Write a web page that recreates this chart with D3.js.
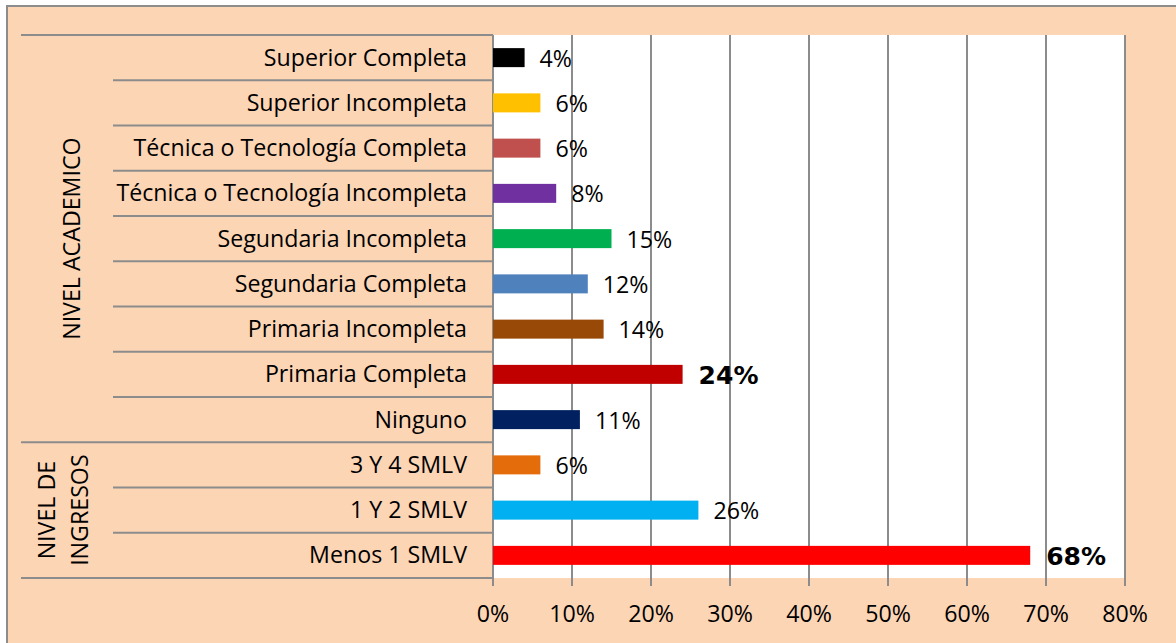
<!DOCTYPE html>
<html>
<head>
<meta charset="utf-8">
<script src="https://cdn.jsdelivr.net/npm/d3@7"></script>
<style>
  body { margin: 0; background: #fff; }
  svg text { font-family: "Open Sans", Lato, sans-serif; fill: #000; }
</style>
</head>
<body>
<div id="chart"></div>
<script>
// categories top to bottom, and their values (%)
var categories = ["Superior Completa", "Superior Incompleta", "Técnica o Tecnología Completa",
  "Técnica o Tecnología Incompleta", "Segundaria Incompleta", "Segundaria Completa",
  "Primaria Incompleta", "Primaria Completa", "Ninguno", "3 Y 4 SMLV", "1 Y 2 SMLV", "Menos 1 SMLV"];
var values = [4, 6, 6, 8, 15, 12, 14, 24, 11, 6, 26, 68];
var colors = ["#000000", "#FFC000", "#C0504D", "#7030A0", "#00B050", "#4F81BD",
  "#984807", "#C00000", "#002060", "#E46C0A", "#00B0F0", "#FF0000"];
var bold = [false, false, false, false, false, false, false, true, false, false, false, true];
var groups = [{ lines: ["NIVEL ACADEMICO"], from: 0, to: 8 },
  { lines: ["NIVEL DE", "INGRESOS"], from: 9, to: 11 }];
var xTicks = [0, 10, 20, 30, 40, 50, 60, 70, 80];

var width = 1176, height = 643;
var plotL = 493, plotR = 1125, plotT = 35, plotB = 578;
var fs = 23.2;

var svg = d3.select("#chart").append("svg")
  .attr("width", width).attr("height", height);

// background frame
svg.append("rect").attr("x", 7).attr("y", 6).attr("width", width).attr("height", height)
  .attr("fill", "#FCD5B5").attr("stroke", "#8c8c8c").attr("stroke-width", 2);

var x = d3.scaleLinear().domain([0, 80]).range([plotL, plotR]);
var y = d3.scaleBand().domain(categories).range([plotT, plotB]);

// plot area
svg.append("rect").attr("x", plotL).attr("y", plotT)
  .attr("width", plotR - plotL).attr("height", plotB - plotT).attr("fill", "#fff");

// vertical grid lines + ticks
svg.append("g").selectAll("line").data(xTicks).enter().append("line")
  .attr("x1", d => x(d)).attr("x2", d => x(d))
  .attr("y1", plotT).attr("y2", plotB + 8)
  .attr("stroke", "#8c8c8c").attr("stroke-width", 2);

svg.append("g").selectAll("text").data(xTicks).enter().append("text")
  .attr("x", d => x(d)).attr("y", 622)
  .attr("text-anchor", "middle").attr("font-size", fs)
  .text(d => d + "%");

// category separator lines
var bounds = d3.range(categories.length + 1).map(i => plotT + i * y.step());
svg.append("g").selectAll("line").data(bounds).enter().append("line")
  .attr("x1", (d, i) => (i == 0 || i == 9 || i == 12) ? 21 : 113)
  .attr("x2", plotL)
  .attr("y1", d => d).attr("y2", d => d)
  .attr("stroke", "#8c8c8c").attr("stroke-width", 2);

// category labels
svg.append("g").selectAll("text").data(categories).enter().append("text")
  .attr("x", 467).attr("y", d => y(d) + y.bandwidth() / 2 + 8)
  .attr("text-anchor", "end").attr("font-size", fs)
  .text(d => d);

// group labels (rotated)
groups.forEach(function (g) {
  var cy = (y(categories[g.from]) + y(categories[g.to]) + y.bandwidth()) / 2;
  var cx = g.lines.length == 1 ? 72 : 47;
  var t = svg.append("text")
    .attr("transform", "translate(" + cx + "," + cy + ") rotate(-90)")
    .attr("text-anchor", "middle").attr("font-size", fs);
  g.lines.forEach(function (l, i) {
    t.append("tspan").attr("x", 0).attr("dy", i == 0 ? 8 : 33).text(l);
  });
});

// bars
var bh = 19;
svg.append("g").selectAll("rect").data(categories).enter().append("rect")
  .attr("x", x(0))
  .attr("y", d => y(d) + y.bandwidth() / 2 - bh / 2)
  .attr("width", (d, i) => x(values[i]) - x(0))
  .attr("height", bh)
  .attr("fill", (d, i) => colors[i]);

// value labels
svg.append("g").selectAll("text").data(categories).enter().append("text")
  .attr("x", (d, i) => x(values[i]) + (bold[i] ? 16 : 15))
  .attr("y", (d, i) => y(d) + y.bandwidth() / 2 + (bold[i] ? 10 : 9))
  .attr("font-size", (d, i) => bold[i] ? 25 : fs)
  .attr("font-weight", (d, i) => bold[i] ? 900 : 400)
  .style("font-family", (d, i) => bold[i] ? "'DejaVu Sans', sans-serif" : null)
  .text((d, i) => values[i] + "%");
</script>
</body>
</html>
